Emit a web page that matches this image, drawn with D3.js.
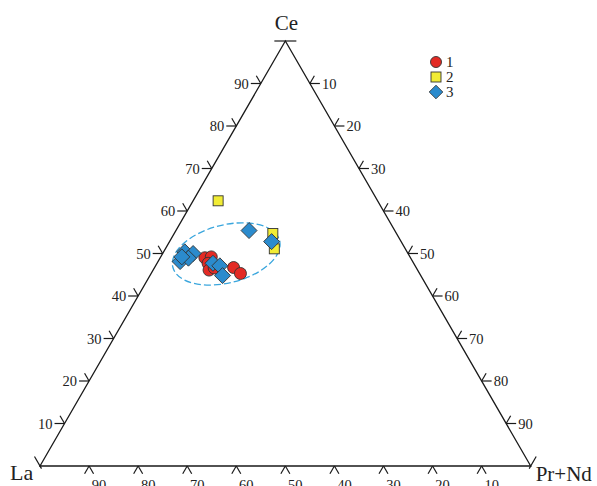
<!DOCTYPE html>
<html>
<head>
<meta charset="utf-8">
<script src="https://cdn.jsdelivr.net/npm/d3@7"></script>
<style>
body { margin: 0; background: #fff; }
svg { display: block; }
text { font-family: "Liberation Serif", "DejaVu Serif", serif; fill: #222; }
</style>
</head>
<body>
<svg width="597" height="486"></svg>
<script>
// ternary points as [La, Ce, Pr+Nd]
var group1 = [[41.9, 49.0, 9.1], [40.5, 49.2, 10.3], [41.9, 47.7, 10.4], [42.5, 46.1, 11.4],
	[41.2, 46.6, 12.2], [37.2, 46.7, 16.1], [36.5, 45.3, 18.2]];
var group2 = [[32.5, 62.4, 5.1], [25.2, 54.7, 20.1], [26.7, 51.1, 22.2]];
var group3 = [[29.7, 55.4, 14.9], [26.4, 52.8, 20.8], [47.4, 48.1, 4.5], [45.3, 50.4, 4.3],
	[43.8, 50.0, 6.2], [45.3, 48.9, 5.8], [46.5, 49.2, 4.3], [40.9, 47.7, 11.4],
	[39.8, 47.1, 13.1], [40.4, 44.8, 14.8]];
var legendLabels = ["1", "2", "3"];
var tickValues = [10, 20, 30, 40, 50, 60, 70, 80, 90];
var cornerLabels = ["La", "Ce", "Pr+Nd"];
var ellipseCenter = [37.1, 49.9, 13.0];

var svg = d3.select("svg");

// x runs along the base: Pr+Nd + Ce/2, y follows Ce
var xScale = d3.scaleLinear().domain([0, 100]).range([40, 530.7]);
var yScale = d3.scaleLinear().domain([0, 100]).range([466, 41]);

function px(d) { return xScale(d[2] + d[1] / 2); }
function py(d) { return yScale(d[1]); }

var ink = "#1a1a1a";
var g = svg.append("g");

// triangle
var corners = [[100, 0, 0], [0, 100, 0], [0, 0, 100]];
g.append("path")
	.attr("d", "M" + corners.map(function(d) { return px(d) + "," + py(d); }).join("L") + "Z")
	.attr("fill", "none")
	.attr("stroke", ink)
	.attr("stroke-width", 1.3)
	.attr("stroke-linejoin", "miter");

var arm = 9, s = 0.5, c = 0.866;

function seg(x1, y1, x2, y2) {
	g.append("line")
		.attr("x1", x1).attr("y1", y1).attr("x2", x2).attr("y2", y2)
		.attr("stroke", ink).attr("stroke-width", 1.2);
}

function label(x, y, t, anchor) {
	g.append("text")
		.attr("x", x).attr("y", y)
		.attr("text-anchor", anchor)
		.style("font-size", "14.5px")
		.text(t);
}

// left edge: Ce
tickValues.forEach(function(v) {
	var d = [100 - v, v, 0], x = px(d), y = py(d);
	seg(x, y, x - arm - 1, y);
	seg(x, y, x - arm * s, y - arm * c);
	label(x - 12, y + 5, v, "end");
});

// right edge: Pr+Nd
tickValues.forEach(function(v) {
	var d = [0, 100 - v, v], x = px(d), y = py(d);
	seg(x, y, x + arm + 1, y);
	seg(x, y, x + arm * s, y - arm * c);
	label(x + 12, y + 5, v, "start");
});

// base: La
tickValues.forEach(function(v) {
	var d = [v, 0, 100 - v], x = px(d), y = py(d);
	seg(x, y, x - arm * s, y + arm * c);
	seg(x, y, x + arm * s, y + arm * c);
	label(x + 10, y + 24, v, "middle");
});

// corner marks
var la = corners[0], ce = corners[1], pn = corners[2];
seg(px(ce) - 11, py(ce), px(ce) + 11, py(ce));
seg(px(la) - 11 * s, py(la) - 11 * c, px(la) + 3 * s, py(la) + 3 * c);
seg(px(pn) + 11 * s, py(pn) - 11 * c, px(pn) - 3 * s, py(pn) + 3 * c);

// corner labels
g.append("text").attr("x", px(ce) + 1).attr("y", 30).attr("text-anchor", "middle")
	.style("font-size", "21px").text(cornerLabels[1]);
g.append("text").attr("x", px(la) - 30).attr("y", 480).attr("text-anchor", "start")
	.style("font-size", "22px").text(cornerLabels[0]);
g.append("text").attr("x", px(pn) + 5).attr("y", 481).attr("text-anchor", "start")
	.style("font-size", "21px").text(cornerLabels[2]);

// field ellipse
svg.append("ellipse")
	.attr("transform", "translate(" + px(ellipseCenter) + "," + py(ellipseCenter) + ") rotate(-14)")
	.attr("rx", 55)
	.attr("ry", 29)
	.attr("fill", "none")
	.attr("stroke", "#3aa6dd")
	.attr("stroke-width", 1.3)
	.attr("stroke-dasharray", "7,3");

var red = "#e32a24", yellow = "#f1ec35", blue = "#2b8bcd", edge = "#333";

function square(sel, size) {
	sel.attr("width", size).attr("height", size)
		.attr("fill", yellow).attr("stroke", edge).attr("stroke-width", 0.9);
}
var diamondPath = "M0,-8L8,0L0,8L-8,0Z";

svg.append("g").selectAll("rect").data(group2).enter().append("rect")
	.attr("x", function(d) { return px(d) - 5; })
	.attr("y", function(d) { return py(d) - 5; })
	.call(square, 10);

svg.append("g").selectAll("circle").data(group1).enter().append("circle")
	.attr("cx", px).attr("cy", py).attr("r", 6)
	.attr("fill", red).attr("stroke", edge).attr("stroke-width", 0.9);

svg.append("g").selectAll("path").data(group3).enter().append("path")
	.attr("transform", function(d) { return "translate(" + px(d) + "," + py(d) + ")"; })
	.attr("d", diamondPath)
	.attr("fill", blue).attr("stroke", edge).attr("stroke-width", 0.9);

// legend
var legend = svg.append("g").attr("transform", "translate(436,62)");
legend.append("circle").attr("cx", 0).attr("cy", 0).attr("r", 5.5)
	.attr("fill", red).attr("stroke", edge).attr("stroke-width", 0.9);
legend.append("rect").attr("x", -5).attr("y", 10).call(square, 10);
legend.append("path").attr("transform", "translate(0,30) scale(0.85)").attr("d", diamondPath)
	.attr("fill", blue).attr("stroke", edge).attr("stroke-width", 1);
legend.selectAll("text.lg").data(legendLabels).enter().append("text")
	.attr("class", "lg")
	.attr("x", 10)
	.attr("y", function(d, i) { return 5 + i * 15; })
	.style("font-size", "15px")
	.text(function(d) { return d; });
</script>
</body>
</html>
